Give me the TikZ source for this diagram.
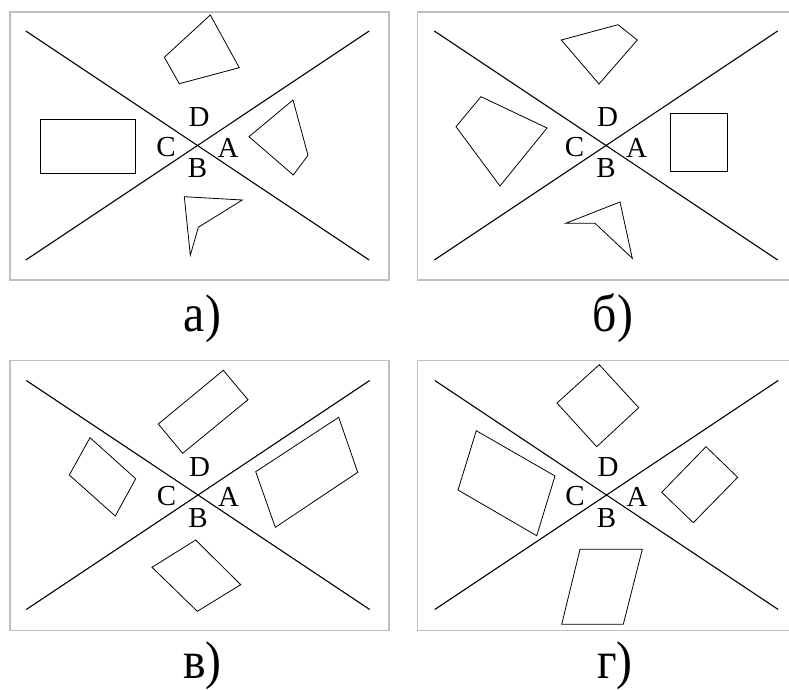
\documentclass[tikz,border=0pt]{standalone}
\usepackage{fontspec}
\setmainfont{Liberation Serif}

\begin{document}
\begin{tikzpicture}[x=1pt, y=-1pt,
  frame/.style={draw=black!25, line width=1.3pt},
  axis/.style={line width=1.1pt},
  fig/.style={line width=0.8pt},
  pt/.style={font=\fontsize{29}{34}\selectfont, inner sep=0pt},
  sublabel/.style={font=\fontsize{53}{60}\selectfont, inner sep=0pt, anchor=base, xscale=0.9, transform shape}]
\useasboundingbox (0,0) rectangle (789,690);

% frames
\draw[frame] (10,12) rectangle (389,280);
\draw[frame] (417.7,12) rectangle (792,280);
\draw[frame] (10,360.7) rectangle (389,630.7);
\draw[frame] (417.7,360.7) rectangle (792,630.7);

% crossing lines and quadrant letters
\foreach \cx/\cy/\p in {197.5/145.5/a, 606/145.5/b, 198/495/c, 606.5/495/d} {
  \coordinate (x\p) at (\cx,\cy);
  \draw[axis] (\cx-171.7,\cy-114.5) -- (\cx+171.7,\cy+114.5);
  \draw[axis] (\cx-171.7,\cy+114.5) -- (\cx+171.7,\cy-114.5);
  \node[pt] (D\p) at (\cx+1.5,\cy-28) {D};
  \node[pt] (C\p) at (\cx-31.5,\cy+1.5) {C};
  \node[pt] (A\p) at (\cx+30.5,\cy+2) {A};
  \node[pt] (B\p) at (\cx,\cy+23) {B};
}

% a)
\draw[fig] (210.3,15) -- (239.3,67.7) -- (179.3,83.7) -- (164.3,57.3) -- cycle;
\draw[fig] (40.3,119) rectangle (135,173.3);
\draw[fig] (293,100) -- (308,155.3) -- (293.3,175) -- (249,136.7) -- cycle;
\draw[fig] (184.3,196.7) -- (242.3,200) -- (198.3,227.3) -- (190.3,255.3) -- cycle;

% b)
\draw[fig] (561.3,40) -- (618,24.7) -- (637.3,40) -- (599,84) -- cycle;
\draw[fig] (481,96.7) -- (547,128) -- (500,186) -- (456,126.7) -- cycle;
\draw[fig] (670,113.3) rectangle (727.3,171.7);
\draw[fig] (565.7,223.3) -- (620,202) -- (632.3,258.3) -- (595,223.3) -- cycle;

% c)
\draw[fig] (223.3,370.3) -- (248,399.7) -- (182.7,453.3) -- (158.3,424) -- cycle;
\draw[fig] (90,437.7) -- (135.7,478.7) -- (115.3,516) -- (69.3,475) -- cycle;
\draw[fig] (338.7,417.3) -- (357.7,472.3) -- (275.3,527.3) -- (255.7,471.7) -- cycle;
\draw[fig] (195.7,540) -- (240.7,584.7) -- (197.3,611.3) -- (152,567.3) -- cycle;

% d)
\draw[fig] (599.3,364.7) -- (638.7,407.7) -- (596.7,446.7) -- (557,403) -- cycle;
\draw[fig] (476.3,430.7) -- (555,476) -- (536.7,535.7) -- (458,490) -- cycle;
\draw[fig] (706,446.7) -- (737.7,477.3) -- (693.3,522.7) -- (661.7,492.3) -- cycle;
\draw[fig] (580,549.3) -- (642.3,549.3) -- (623.3,624.3) -- (561.7,624.3) -- cycle;

% captions
\node[sublabel] (capa) at (202.5,331.7) {а)};
\node[sublabel] (capb) at (613,331.7) {б)};
\node[sublabel] (capc) at (202.4,678.5) {в)};
\node[sublabel] (capd) at (615,678.5) {г)};
\end{tikzpicture}
\end{document}
